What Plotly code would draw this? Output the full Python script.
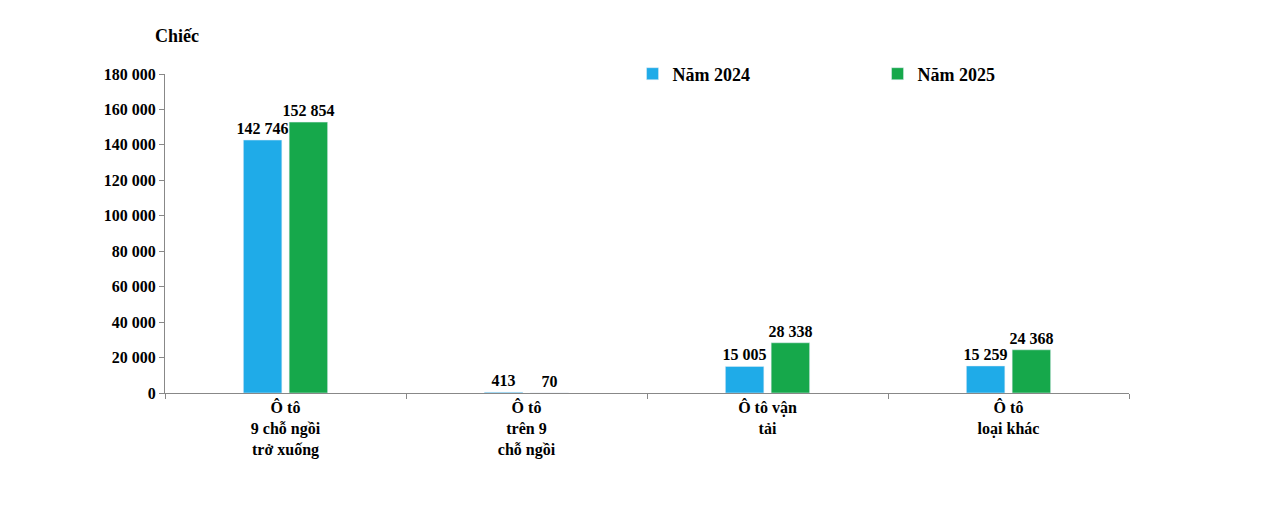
import plotly.graph_objects as go

categories = ["Ô tô<br>9 chỗ ngồi<br>trở xuống", "Ô tô<br>trên 9<br>chỗ ngồi",
              "Ô tô vận<br>tải", "Ô tô<br>loại khác"]
values_2024 = [142746, 413, 15005, 15259]
values_2025 = [152854, 70, 28338, 24368]


def fmt(v):
    return f"{v:,}".replace(",", " ")


font = dict(family="Liberation Serif", size=16, color="black")

fig = go.Figure()
fig.add_trace(go.Bar(x=categories, y=values_2024, name="<b>Năm 2024</b>",
                     marker_color="#1FABE8",
                     text=[f"<b>{fmt(v)}</b>" for v in values_2024],
                     textposition="outside", cliponaxis=False))
fig.add_trace(go.Bar(x=categories, y=values_2025, name="<b>Năm 2025</b>",
                     marker_color="#16A84B",
                     text=[f"<b>{fmt(v)}</b>" for v in values_2025],
                     textposition="outside", cliponaxis=False))

fig.update_layout(
    width=1287, height=505,
    margin=dict(l=157, r=166, t=66, b=120),
    plot_bgcolor="white", paper_bgcolor="white",
    font=font,
    separators=". ",
    bargap=0.62, bargroupgap=0.16,
    showlegend=True,
    legend=dict(orientation="h", x=0.485, y=1.0, xanchor="left", yanchor="middle",
                font=dict(family="Liberation Serif", size=18), entrywidth=200,
                traceorder="normal", itemwidth=30),
    annotations=[dict(text="<b>Chiếc</b>", xref="paper", yref="paper", x=-0.012, y=1.08,
                      xanchor="left", yanchor="bottom", showarrow=False,
                      font=dict(family="Liberation Serif", size=18))],
)
fig.update_traces(textfont=dict(family="Liberation Serif", size=16), constraintext="none")
fig.update_yaxes(range=[0, 180000], dtick=20000, tickformat=",d",
                 showline=True, linecolor="#888", ticks="outside", ticklen=5,
                 tickcolor="#888", showgrid=False, zeroline=False,
                 tickfont=dict(family="Liberation Serif", size=16),
                 tickprefix="<b>", ticksuffix="</b>")
fig.update_xaxes(showline=True, linecolor="#888", ticks="outside", tickson="boundaries",
                 ticklen=5, tickcolor="#888", showgrid=False,
                 tickfont=dict(family="Liberation Serif", size=16),
                 tickprefix="<b>", ticksuffix="</b>")

fig.write_html("out.html")
